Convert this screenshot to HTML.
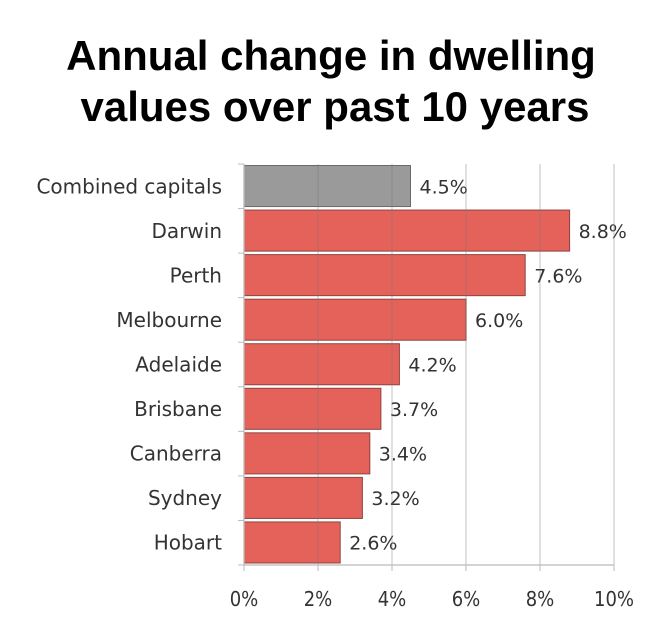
<!DOCTYPE html>
<html><head><meta charset="utf-8"><style>
body{margin:0;background:#fff;width:658px;height:624px;overflow:hidden;font-family:"Liberation Sans",sans-serif}
</style></head><body>
<svg width="658" height="624" xmlns="http://www.w3.org/2000/svg">
<text x="331" y="70" text-anchor="middle" font-family="Liberation Sans, sans-serif" font-weight="bold" font-size="42" fill="#000">Annual change in dwelling</text>
<text x="335" y="121" text-anchor="middle" font-family="Liberation Sans, sans-serif" font-weight="bold" font-size="42" fill="#000">values over past 10 years</text>
<g id="plot"></g>
</svg>
<script>
const categories=["Combined capitals","Darwin","Perth","Melbourne","Adelaide","Brisbane","Canberra","Sydney","Hobart"];
const values=[4.5,8.8,7.6,6.0,4.2,3.7,3.4,3.2,2.6];
const valueLabels=["4.5%","8.8%","7.6%","6.0%","4.2%","3.7%","3.4%","3.2%","2.6%"];
const ticks=[0,2,4,6,8,10];
const tickLabels=["0%","2%","4%","6%","8%","10%"];
const NS="http://www.w3.org/2000/svg";
const x0=244,x1=614,y0=164,y1=565,maxV=10;
const xs=v=>x0+(v/maxV)*(x1-x0);
const rowH=(y1-y0)/categories.length;
const ys=i=>y0+i*rowH;
const g=document.getElementById('plot');
const FONT='DejaVu Sans, sans-serif';
const FONTC='DejaVu Sans Condensed, DejaVu Sans, sans-serif';
function mk(t,a){const e=document.createElementNS(NS,t);for(const k in a)e.setAttribute(k,a[k]);g.appendChild(e);return e;}
categories.forEach((c,i)=>{
 const r=mk('rect',{x:x0,y:ys(i)+1.5,width:xs(values[i])-x0,height:rowH-3.5,fill:i===0?'#9a9a9a':'#e5625a',stroke:i===0?'#6a6a6a':'#8e4440','stroke-width':1});
 
 
 const v=mk('text',{x:xs(values[i])+9,y:ys(i)+rowH/2+7,'font-size':19,fill:'#333','font-family':FONT});
 v.textContent=valueLabels[i];
 
 
 const l=mk('text',{x:x0-22,y:ys(i)+rowH/2+7,'text-anchor':'end','font-size':20,fill:'#333','font-family':FONT});
 l.textContent=c;
 
 
});
ticks.forEach((t,i)=>{
 if(i>0){const l=mk('line',{x1:xs(t),x2:xs(t),y1:y0,y2:y1,stroke:'rgba(120,120,120,0.35)','stroke-width':1.3});
 
 }
 const tk=mk('line',{x1:xs(t),x2:xs(t),y1:y1,y2:y1+6,stroke:'#bbb','stroke-width':1});
 
 
 const tx=mk('text',{x:xs(t),y:y1+41,'text-anchor':'middle','font-size':20,fill:'#333','font-family':FONTC});
 tx.textContent=tickLabels[i];
 
 
});
const ax=mk('line',{x1:x0,x2:x0,y1:y0,y2:y1,stroke:'#bbb','stroke-width':1.3});


const bx=mk('line',{x1:x0,x2:x1,y1:y1,y2:y1,stroke:'#bbb','stroke-width':1.3});


for(let i=0;i<=categories.length;i++){
 const t=mk('line',{x1:x0-6,x2:x0,y1:ys(i),y2:ys(i),stroke:'#bbb','stroke-width':1});
 
 
}
</script>
</body></html>
